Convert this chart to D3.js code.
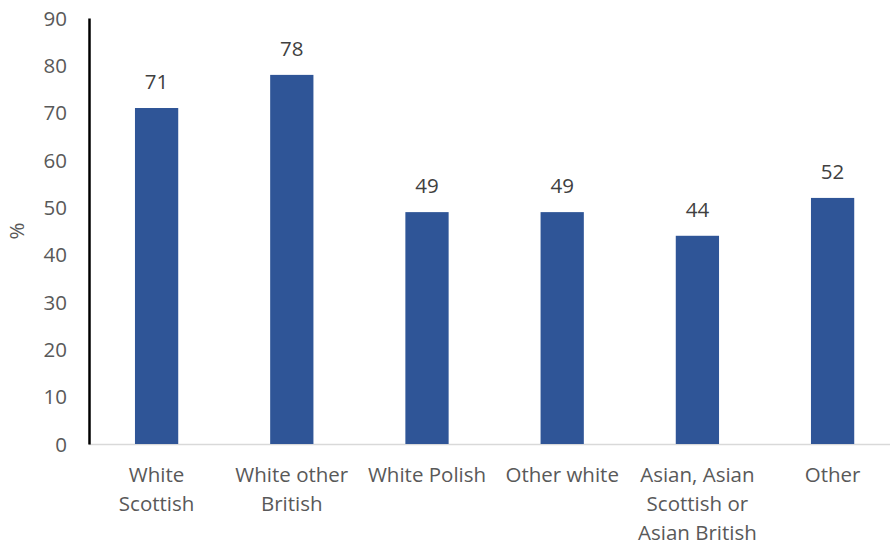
<!DOCTYPE html>
<html><head><meta charset="utf-8">
<script src="https://cdn.jsdelivr.net/npm/d3@7"></script>
<style>body{margin:0;background:#fff}svg{display:block}</style>
</head><body>
<svg id="c" width="890" height="547"></svg>
<script>
const categories = [["White","Scottish"],["White other","British"],["White Polish"],["Other white"],["Asian, Asian","Scottish or","Asian British"],["Other"]];
const values = [71,78,49,49,44,52];
const yTicks = [0,10,20,30,40,50,60,70,80,90];
const yLabel = "%";

const svg = d3.select("#c");
const font = "'Open Sans', sans-serif";
const fs = 20.5;
const left = 89, bandW = 135.2;
const x = d3.scaleBand().domain(d3.range(values.length)).range([left, left + bandW*values.length]).paddingInner(0.68).paddingOuter(0.34);
const y = d3.scaleLinear().domain([0,90]).range([444, 18.1]);

// baseline
svg.append("line").attr("x1",left).attr("x2",890).attr("y1",y(0)+0.5).attr("y2",y(0)+0.5).attr("stroke","#d9d9d9").attr("stroke-width",1.5);

// bars
svg.selectAll("rect.bar").data(values).join("rect").attr("class","bar")
  .attr("x",(d,i)=>x(i)).attr("width",x.bandwidth())
  .attr("y",d=>y(d)).attr("height",d=>y(0)-y(d)).attr("fill","#2f5597");

// data labels
svg.selectAll("text.dl").data(values).join("text").attr("class","dl")
  .attr("x",(d,i)=>x(i)+x.bandwidth()/2).attr("y",d=>y(d)-19)
  .attr("text-anchor","middle").attr("font-family",font).attr("font-size",fs).attr("fill","#404040")
  .text(d=>d);

// y axis
const yAxis = d3.axisLeft(y).tickValues(yTicks).tickSize(0).tickPadding(22);
const gy = svg.append("g").attr("transform",`translate(${left},0)`).call(yAxis);
gy.select(".domain").attr("stroke","#000").attr("stroke-width",2.5);
gy.selectAll("text").attr("font-family",font).attr("font-size",fs).attr("fill","#595959").attr("dy","0.35em");

// y label
svg.append("text").attr("transform",`translate(24,${y(45)}) rotate(-90)`)
  .attr("text-anchor","middle").attr("font-family",font).attr("font-size",fs).attr("fill","#595959").text(yLabel);

// category labels
svg.selectAll("text.cat").data(categories).join("text").attr("class","cat")
  .attr("x",(d,i)=>x(i)+x.bandwidth()/2).attr("y",482)
  .attr("text-anchor","middle").attr("font-family",font).attr("font-size",fs).attr("fill","#595959")
  .each(function(d){
    const t = d3.select(this), cx = t.attr("x");
    d.forEach((line,j)=>t.append("tspan").attr("x",cx).attr("dy", j===0?0:29).text(line));
  });
</script>
</body></html>
